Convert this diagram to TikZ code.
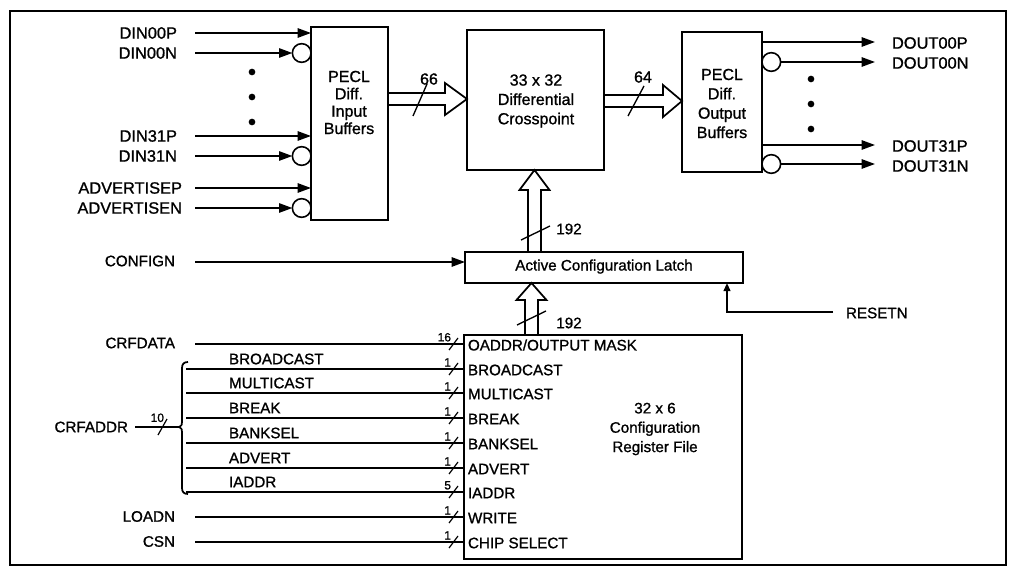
\documentclass[tikz,border=0pt]{standalone}
\usepackage{fontspec}
\setmainfont{Liberation Sans}[FakeBold=1.1]
\usetikzlibrary{arrows.meta,fit,calc}
\begin{document}
\begin{tikzpicture}[x=0.75pt,y=-0.75pt,
  line width=1.3pt, line join=miter,
  every node/.style={inner sep=0pt, outer sep=0pt},
  txt/.style={font=\fontsize{11.4}{14.5}\selectfont},
  boxtxt/.style={font=\fontsize{12}{14.5}\selectfont, align=center},
  pin/.style={font=\fontsize{12.3}{14}\selectfont},
  small/.style={font=\fontsize{9}{10}\selectfont},
  blk/.style={draw, line width=1.3pt, inner sep=0pt},
  tri/.style={-{Triangle[length=10pt,width=7pt]}},
  smalltri/.style={-{Triangle[length=6pt,width=5pt]}},
  bus/.style={line width=1.3pt, line join=miter},
  bubble/.style={circle, draw, line width=1.2pt, minimum size=14pt, inner sep=0pt},
  dot/.style={circle, fill, minimum size=5pt, inner sep=0pt},
]
\useasboundingbox (0,0) rectangle (1018,574);
% frame
\draw[line width=1.8pt] (10,11) rectangle (1006,565);

% ---------- blocks ----------
\node[blk, fit={(311,27) (388,220)}] (inbuf) {};
\node[boxtxt, font=\fontsize{12}{13}\selectfont] (inbuftxt) at (349,102.5) {PECL\\Diff.\\Input\\Buffers};
\node[blk, fit={(467,30) (604,170)}] (xp) {};
\node[boxtxt] (xptxt) at (536,101) {33 x 32\\Differential\\Crosspoint};
\node[blk, fit={(682,32) (762,172)}] (outbuf) {};
\node[boxtxt] (outbuftxt) at (722,103.5) {PECL\\Diff.\\Output\\Buffers};
\node[blk, fit={(465,252) (743,283)}] (latch) {};
\node[txt, anchor=base] (latchtxt) at (604,270.5) {Active Configuration Latch};
\node[blk, fit={(464,335) (742,559)}] (reg) {};
\node[txt, align=center] (regtxt) at (655,429) {32 x 6\\Configuration\\Register File};

% ---------- input signals ----------
\coordinate (sIn1) at (195,33);
\coordinate (sIn2) at (195,53);
\coordinate (sIn3) at (195,136);
\coordinate (sIn4) at (195,156);
\coordinate (sIn5) at (195,188);
\coordinate (sIn6) at (195,208);
\node[pin, anchor=east] (lIn1) at (177,33) {DIN00P};
\node[pin, anchor=east] (lIn2) at (177,53) {DIN00N};
\node[pin, anchor=east] (lIn3) at (177,136) {DIN31P};
\node[pin, anchor=east] (lIn4) at (177,156) {DIN31N};
\node[pin, anchor=east] (lIn5) at (182,188) {ADVERTISEP};
\node[pin, anchor=east] (lIn6) at (182,208) {ADVERTISEN};
\node[bubble] (bIn2) at (301.7,53) {};
\node[bubble] (bIn4) at (301.7,156) {};
\node[bubble] (bIn6) at (301.7,208) {};
\draw[tri] (sIn1) -- (sIn1 -| inbuf.west);
\draw[tri] (sIn2) -- (bIn2.west);
\draw[tri] (sIn3) -- (sIn3 -| inbuf.west);
\draw[tri] (sIn4) -- (bIn4.west);
\draw[tri] (sIn5) -- (sIn5 -| inbuf.west);
\draw[tri] (sIn6) -- (bIn6.west);
\node[dot] (dIn1) at (252,72) {};
\node[dot] (dIn2) at (252,97) {};
\node[dot] (dIn3) at (252,122) {};

% ---------- output signals ----------
\coordinate (eOut1) at (875,42);
\coordinate (eOut2) at (875,62);
\coordinate (eOut3) at (875,145);
\coordinate (eOut4) at (875,164);
\node[bubble] (bOut2) at (771.3,62) {};
\node[bubble] (bOut4) at (771.3,164) {};
\draw[tri] (eOut1 -| outbuf.east) -- (eOut1);
\draw[tri] (bOut2.east) -- (eOut2);
\draw[tri] (eOut3 -| outbuf.east) -- (eOut3);
\draw[tri] (bOut4.east) -- (eOut4);
\node[pin, anchor=west] (lOut1) at (892,43) {DOUT00P};
\node[pin, anchor=west] (lOut2) at (892,63) {DOUT00N};
\node[pin, anchor=west] (lOut3) at (892,146) {DOUT31P};
\node[pin, anchor=west] (lOut4) at (892,166) {DOUT31N};
\node[dot] (dOut1) at (811,79) {};
\node[dot] (dOut2) at (811,104) {};
\node[dot] (dOut3) at (811,129) {};

% ---------- buses ----------
\coordinate (busA) at (388,99);
\coordinate (busAt) at (467,99);
\draw[bus] (busA) ++(0,-6) -- ++(57,0) -- ++(0,-10) -- (busAt) -- ++(-22,16) -- ++(0,-10) -- ++(-57,0);
\draw[line width=1pt] (413,116) -- (427,84);
\node[boxtxt] (n66) at (429,79) {66};

\coordinate (busB) at (604,101);
\coordinate (busBt) at (682,101);
\draw[bus] (busB) ++(0,-6) -- ++(59,0) -- ++(0,-10) -- (busBt) -- ++(-19,16) -- ++(0,-10) -- ++(-59,0);
\draw[line width=1pt] (628,116) -- (644,86);
\node[boxtxt] (n64) at (643,77) {64};

\coordinate (busC) at (534.5,252);
\coordinate (busCt) at (534.5,170);
\draw[bus] (busC) ++(-6.5,0) -- ++(0,-62) -- ++(-8.5,0) -- (busCt) -- ++(15,20) -- ++(-8.5,0) -- ++(0,62);
\draw[line width=1pt] (521,240) -- (550,226);
\node[txt] (n192a) at (569,229) {192};

\coordinate (busD) at (531.5,335);
\coordinate (busDt) at (531.5,283);
\draw[bus] (busD) ++(-6.5,0) -- ++(0,-35) -- ++(-8.5,0) -- (busDt) -- ++(15,17) -- ++(-8.5,0) -- ++(0,35);
\draw[line width=1pt] (517,325) -- (546,311);
\node[txt] (n192b) at (569,323) {192};

% ---------- CONFIGN / RESETN ----------
\node[txt, anchor=east] (lCfg) at (175,261) {CONFIGN};
\coordinate (sCfg) at (195,262);
\draw[tri] (sCfg) -- (sCfg -| latch.west);
\node[txt, anchor=west] (lRst) at (846,313) {RESETN};
\coordinate (sRst) at (833,312);
\coordinate (tRst) at ($(latch.south east)+(-16,0)$);
\draw[smalltri] (sRst) -| (tRst);

% ---------- register file inputs ----------
\node[txt, anchor=west] (ra) at (468,345) {OADDR/OUTPUT MASK};
\node[txt, anchor=west] (rb) at (468,370) {BROADCAST};
\node[txt, anchor=west] (rc) at (468,394) {MULTICAST};
\node[txt, anchor=west] (rd) at (468,419) {BREAK};
\node[txt, anchor=west] (re) at (468,444) {BANKSEL};
\node[txt, anchor=west] (rf) at (468,469) {ADVERT};
\node[txt, anchor=west] (rg) at (468,493) {IADDR};
\node[txt, anchor=west] (rh) at (468,518) {WRITE};
\node[txt, anchor=west] (ri) at (468,543) {CHIP SELECT};

\node[txt, anchor=east] (lData) at (175,343) {CRFDATA};
\node[txt, anchor=east] (lLoad) at (175,516.5) {LOADN};
\node[txt, anchor=east] (lCs) at (175,541.5) {CSN};
\node[txt, anchor=east] (lAddr) at (128,427) {CRFADDR};

\coordinate (sa) at (195,344);
\coordinate (sb) at (186,369);
\coordinate (sc) at (186,393);
\coordinate (sd) at (186,418);
\coordinate (se) at (186,443);
\coordinate (sf) at (186,468);
\coordinate (sg) at (186,492);
\coordinate (sh) at (195,517);
\coordinate (si) at (195,542);
\foreach \nm in {a,b,c,d,e,f,g,h,i}{
  \draw (s\nm) -- (s\nm -| reg.west);
}
% bit-width marks
\foreach \yy/\w in {344/16,369/1,393/1,418/1,443/1,468/1,492/5,517/1,542/1}{
  \draw[line width=0.9pt] (449,\yy+6) -- (458,\yy-6);
  \node[small, anchor=south east] at (451,\yy-2.5) {\w};
}

\node[txt, anchor=west] (bb) at (229,359) {BROADCAST};
\node[txt, anchor=west] (bc) at (229,383) {MULTICAST};
\node[txt, anchor=west] (bd) at (229,408) {BREAK};
\node[txt, anchor=west] (be) at (229,433) {BANKSEL};
\node[txt, anchor=west] (bf) at (229,458) {ADVERT};
\node[txt, anchor=west] (bg) at (229,482) {IADDR};

% brace
\coordinate (brtip) at (179,427);
\draw[line width=1.3pt] (188,362) .. controls (184,362) and (182,364) .. (182,368) -- (182,422)
  .. controls (182,425) .. (brtip) .. controls (182,429) .. (182,432) -- (182,488)
  .. controls (182,492) and (184,494) .. (188,494);
\coordinate (sAddr) at (135,427);
\draw (sAddr) -- (brtip);
\draw[line width=0.9pt] (158,435) -- (167,419);
\node[small, anchor=south east] (n10) at (164,422) {10};
\end{tikzpicture}
\end{document}
